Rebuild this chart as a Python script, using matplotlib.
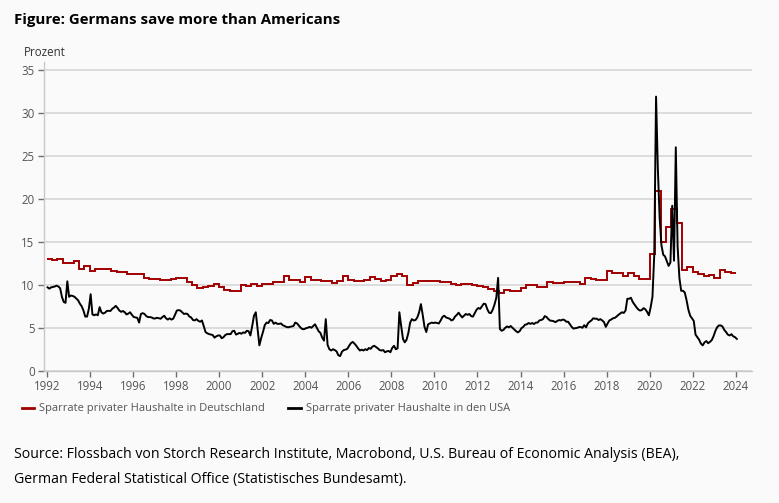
import matplotlib
matplotlib.use("Agg")
import matplotlib.pyplot as plt
from matplotlib.lines import Line2D
import numpy as np

# ---------------- data ----------------
start_year = 1992
# US personal saving rate, monthly (Jan 1992 ...)
us_1992_1995 = [
    9.7, 9.55, 9.7, 9.75, 9.8, 9.9, 9.8, 9.6, 8.6, 8.0, 7.9, 10.4,
    8.6, 8.75, 8.7, 8.6, 8.4, 8.2, 7.8, 7.5, 7.0, 6.3, 6.3, 7.2,
    8.9, 6.55, 6.45, 6.55, 6.45, 7.4, 6.8, 6.65, 6.75, 6.95, 6.97, 6.95,
    7.2, 7.35, 7.55, 7.3, 7.0, 6.85, 6.95, 6.8, 6.55, 6.65, 6.8, 6.5,
]
us_1996_1999 = [
    6.25, 6.2, 6.15, 5.6, 6.6, 6.7, 6.6, 6.35, 6.24, 6.24, 6.2, 6.08,
    6.08, 6.16, 6.1, 6.05, 6.25, 6.4, 6.1, 5.95, 6.1, 5.95, 6.05, 6.5,
    7.0, 7.05, 7.0, 6.8, 6.6, 6.65, 6.6, 6.3, 6.2, 5.9, 5.85, 6.0,
    5.8, 5.7, 5.85, 5.2, 4.5, 4.35, 4.26, 4.2, 4.15, 3.85, 4.0, 4.1,
]
us_2000_2003 = [
    4.1, 3.78, 3.9, 4.15, 4.26, 4.26, 4.26, 4.6, 4.65, 4.2, 4.3, 4.4,
    4.3, 4.46, 4.4, 4.65, 4.6, 4.1, 5.2, 6.4, 6.8, 4.9, 2.95, 3.8,
    4.5, 5.3, 5.6, 5.55, 5.9, 5.85, 5.45, 5.6, 5.45, 5.45, 5.5, 5.3,
    5.2, 5.1, 5.05, 5.1, 5.15, 5.2, 5.6, 5.5, 5.25, 5.0, 4.84, 4.84,
]
us_2004_2007 = [
    4.95, 5.0, 5.1, 5.0, 5.2, 5.4, 5.0, 4.6, 4.4, 3.85, 3.5, 6.0,
    3.0, 2.5, 2.35, 2.5, 2.4, 2.25, 1.8, 1.7, 2.2, 2.4, 2.45, 2.55,
    2.9, 3.2, 3.35, 3.15, 2.9, 2.6, 2.35, 2.45, 2.35, 2.5, 2.4, 2.64,
    2.55, 2.8, 2.9, 2.75, 2.6, 2.4, 2.35, 2.4, 2.15, 2.25, 2.3, 2.15,
]
us_2008_2011 = [
    2.65, 2.9, 2.5, 2.6, 6.8, 5.2, 3.7, 3.3, 3.6, 4.4, 5.6, 6.0,
    5.85, 5.9, 6.2, 6.8, 7.75, 6.5, 5.1, 4.5, 5.4, 5.5, 5.6, 5.55,
    5.6, 5.55, 5.5, 5.85, 6.25, 6.4, 6.2, 6.12, 6.05, 5.85, 5.95, 6.3,
    6.5, 6.75, 6.45, 6.2, 6.4, 6.6, 6.5, 6.6, 6.35, 6.3, 6.7, 7.1,
]
us_2012_2015 = [
    7.3, 7.2, 7.5, 7.8, 7.75, 7.15, 6.75, 6.7, 7.1, 7.7, 8.5, 10.8,
    4.85, 4.65, 4.75, 5.0, 5.15, 5.05, 5.2, 5.0, 4.8, 4.6, 4.46, 4.6,
    4.95, 5.1, 5.35, 5.4, 5.55, 5.45, 5.55, 5.43, 5.6, 5.6, 5.85, 5.9,
    6.0, 6.35, 6.25, 6.0, 5.83, 5.81, 5.75, 5.65, 5.8, 5.89, 5.85, 5.95,
]
us_2016_2019 = [
    5.9, 5.7, 5.7, 5.4, 5.1, 4.9, 4.95, 4.98, 5.08, 5.08, 5.0, 5.3,
    5.05, 5.5, 5.7, 5.85, 6.1, 6.05, 6.05, 5.9, 6.0, 5.85, 5.66, 5.1,
    5.5, 5.85, 5.95, 6.1, 6.15, 6.3, 6.5, 6.65, 6.8, 6.72, 7.0, 8.37,
    8.37, 8.49, 8.0, 7.7, 7.4, 7.15, 7.0, 7.05, 7.28, 7.15, 6.85, 6.45,
]
us_2020_2024 = [
    7.4, 8.6, 13.5, 31.9, 23.5, 17.8, 14.6, 13.5, 13.3, 12.75, 12.2, 12.6,
    19.2, 12.8, 26.0, 14.5, 10.8, 9.3, 9.3, 9.1, 8.2, 7.1, 6.4, 6.1,
    5.8, 4.2, 3.9, 3.6, 3.15, 2.95, 3.3, 3.45, 3.2, 3.35, 3.55, 4.0,
    4.6, 5.05, 5.27, 5.27, 5.15, 4.75, 4.5, 4.2, 4.1, 4.25, 4.0, 3.9,
    3.7,
]

# German household saving rate, quarterly (1992Q1 ...)
de_1992_1999 = [
    12.95, 12.87, 12.95, 12.48,
    12.48, 12.79, 11.86, 12.2,
    11.6, 11.78, 11.78, 11.78,
    11.55, 11.47, 11.47, 11.28,
    11.28, 11.28, 10.8, 10.62,
    10.62, 10.55, 10.5, 10.7,
    10.83, 10.8, 10.35, 10.0,
    9.6, 9.75, 9.85, 10.05,
]
de_2000_2007 = [
    9.75, 9.35, 9.22, 9.22,
    9.95, 9.82, 10.1, 9.85,
    10.13, 10.13, 10.28, 10.28,
    11.05, 10.6, 10.6, 10.3,
    10.85, 10.58, 10.58, 10.47,
    10.47, 10.2, 10.4, 10.97,
    10.54, 10.47, 10.47, 10.54,
    10.93, 10.66, 10.4, 10.58,
]
de_2008_2015 = [
    11.05, 11.3, 11.05, 10.0,
    10.15, 10.4, 10.4, 10.4,
    10.39, 10.27, 10.27, 10.08,
    9.96, 10.08, 10.08, 9.96,
    9.85, 9.7, 9.55, 9.22,
    9.03, 9.38, 9.3, 9.3,
    9.57, 9.96, 9.96, 9.8,
    9.8, 10.35, 10.2, 10.15,
]
de_2016_2023 = [
    10.31, 10.31, 10.31, 10.04,
    10.78, 10.62, 10.5, 10.5,
    11.55, 11.4, 11.4, 10.97,
    11.4, 10.97, 10.62, 10.62,
    13.6, 20.97, 15.0, 16.67,
    18.84, 17.17, 11.67, 12.05,
    11.47, 11.28, 11.0, 11.16,
    10.78, 11.74, 11.45, 11.4,
]

y_ticks = [0, 5, 10, 15, 20, 25, 30, 35]
x_ticks = list(range(1992, 2025, 2))

title = "Figure: Germans save more than Americans"
y_unit = "Prozent"
label_de = "Sparrate privater Haushalte in Deutschland"
label_us = "Sparrate privater Haushalte in den USA"
source_1 = ("Source: Flossbach von Storch Research Institute, Macrobond, "
            "U.S. Bureau of Economic Analysis (BEA),")
source_2 = "German Federal Statistical Office (Statistisches Bundesamt)."

# ---------------- build series ----------------
us = np.array(us_1992_1995 + us_1996_1999 + us_2000_2003 + us_2004_2007 +
              us_2008_2011 + us_2012_2015 + us_2016_2019 + us_2020_2024)
us_x = start_year + (np.arange(len(us)) + 0.5) / 12.0
de = np.array(de_1992_1999 + de_2000_2007 + de_2008_2015 + de_2016_2023)
de_edges = start_year + np.arange(len(de) + 1) / 4.0

# ---------------- plot ----------------
BG = "#fafafa"
RED = "#a10000"
plt.rcParams["font.family"] = ["Open Sans", "DejaVu Sans"]

W, H = 779, 503
fig = plt.figure(figsize=(W / 100, H / 100), dpi=100, facecolor=BG)
ax = fig.add_axes([44.3 / W, 1 - 370.7 / H, (752.3 - 44.3) / W, (370.7 - 62) / H])
ax.set_facecolor(BG)

ax.stairs(de, de_edges, color=RED, linewidth=1.4, baseline=None, zorder=3)
ax.plot(us_x, us, color="black", linewidth=1.4, zorder=4)

ax.set_xlim(1991.89, 2024.76)
ax.set_ylim(0, 35.93)
ax.set_yticks(y_ticks)
ax.set_xticks(x_ticks)
ax.set_xticklabels([str(t) for t in x_ticks])
ax.grid(axis="y", color="#d4d4d4", linewidth=1.1, zorder=0)
ax.set_axisbelow(True)

for s in ["top", "right"]:
    ax.spines[s].set_visible(False)
for s in ["left", "bottom"]:
    ax.spines[s].set_color("#c8c8c8")
    ax.spines[s].set_linewidth(1.0)

ax.tick_params(axis="both", direction="out", length=4, width=1,
               color="#6e6e6e", labelcolor="#555555", labelsize=8.3)
ax.tick_params(axis="y", pad=3)
ax.tick_params(axis="x", pad=3)

fig.text(14 / W, 1 - 20 / H, title, fontsize=10.8, fontweight="bold",
         ha="left", va="center", color="black")
fig.text(24 / W, 1 - 52 / H, y_unit, fontsize=8.3, ha="left", va="center",
         color="#333333")

handles = [Line2D([], [], color=RED, linewidth=2),
           Line2D([], [], color="black", linewidth=2)]
fig.legend(handles, [label_de, label_us], loc="center left",
           bbox_to_anchor=(22 / W, 1 - 409 / H), ncol=2, frameon=False,
           fontsize=8.0, handlelength=1.1, handletextpad=0.45,
           columnspacing=2.1, labelcolor="#555555", borderaxespad=0,
           borderpad=0)

fig.text(14 / W, 1 - 455 / H, source_1, fontsize=10.2, ha="left",
         va="center", color="black")
fig.text(14 / W, 1 - 480 / H, source_2, fontsize=10.2, ha="left",
         va="center", color="black")

fig.savefig("out.png", dpi=100, facecolor=BG)
